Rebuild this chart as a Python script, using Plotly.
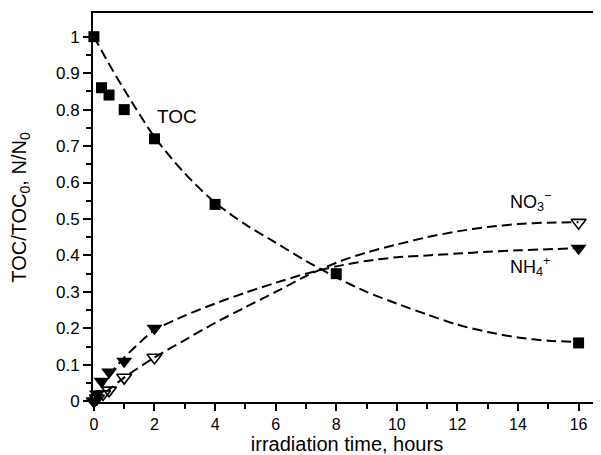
import plotly.graph_objects as go

# measured points
toc_t = [0, 0.25, 0.5, 1, 2, 4, 8, 16]
toc_v = [1.0, 0.86, 0.84, 0.80, 0.72, 0.54, 0.35, 0.16]

nh4_t = [0, 0.1, 0.25, 0.5, 1, 2, 16]
nh4_v = [0.0, 0.02, 0.055, 0.08, 0.11, 0.20, 0.42]

no3_t = [0, 0.1, 0.3, 0.5, 1, 2, 16]
no3_v = [0.0, 0.008, 0.02, 0.03, 0.065, 0.12, 0.49]

# fitted (dashed) curves
toc_fit_t = [0, 0.5, 1, 2, 3, 4, 5, 6, 7, 8, 9, 10, 11, 12, 13, 14, 15, 16]
toc_fit_v = [1.0, 0.925, 0.855, 0.725, 0.625, 0.545, 0.485, 0.435, 0.385, 0.34, 0.30, 0.268, 0.238, 0.21, 0.19, 0.175, 0.166, 0.163]

nh4_fit_t = [0, 0.5, 1, 1.5, 2, 3, 4, 5, 6, 7, 8, 9, 10, 11, 12, 13, 14, 15, 16]
nh4_fit_v = [0.0, 0.07, 0.12, 0.16, 0.195, 0.235, 0.268, 0.298, 0.325, 0.35, 0.37, 0.385, 0.395, 0.4, 0.405, 0.41, 0.414, 0.417, 0.42]

no3_fit_t = [0, 0.5, 1, 2, 3, 4, 5, 6, 7, 8, 9, 10, 11, 12, 13, 14, 15, 16]
no3_fit_v = [0.0, 0.032, 0.065, 0.12, 0.168, 0.215, 0.258, 0.30, 0.343, 0.38, 0.408, 0.43, 0.45, 0.466, 0.478, 0.486, 0.49, 0.491]

x_ticks = [0, 2, 4, 6, 8, 10, 12, 14, 16]
y_ticks = [0, 0.1, 0.2, 0.3, 0.4, 0.5, 0.6, 0.7, 0.8, 0.9, 1.0]
y_tick_text = ["0", "0.1", "0.2", "0.3", "0.4", "0.5", "0.6", "0.7", "0.8", "0.9", "1"]
y_minor = [0.05, 0.15, 0.25, 0.35, 0.45, 0.55, 0.65, 0.75, 0.85, 0.95]
x_minor = [1, 3, 5, 7, 9, 11, 13, 15]

FONT = "Liberation Sans, Arial, Helvetica, sans-serif"
dash = "10px,5px"

fig = go.Figure()
for t, v in [(toc_fit_t, toc_fit_v), (nh4_fit_t, nh4_fit_v), (no3_fit_t, no3_fit_v)]:
    fig.add_trace(go.Scatter(x=t, y=v, mode="lines",
                             line=dict(color="black", width=2, dash=dash, shape="spline", smoothing=0.8),
                             hoverinfo="skip", showlegend=False, cliponaxis=False))

fig.add_trace(go.Scatter(x=no3_t, y=no3_v, mode="markers",
                         marker=dict(symbol="triangle-down-open", size=13, color="black",
                                     line=dict(color="black", width=1.6)),
                         showlegend=False, cliponaxis=False))
fig.add_trace(go.Scatter(x=nh4_t, y=nh4_v, mode="markers",
                         marker=dict(symbol="triangle-down", size=14, color="black"),
                         showlegend=False, cliponaxis=False))
fig.add_trace(go.Scatter(x=toc_t, y=toc_v, mode="markers",
                         marker=dict(symbol="square", size=11, color="black"),
                         showlegend=False, cliponaxis=False))

fig.add_annotation(x=2.74, y=0.78, text="TOC", showarrow=False,
                   font=dict(family=FONT, size=19, color="black"))
fig.add_annotation(x=14.4, y=0.547, text="NO<sub>3</sub><sup>−</sup>", showarrow=False,
                   font=dict(family=FONT, size=18, color="black"))
fig.add_annotation(x=14.4, y=0.37, text="NH<sub>4</sub><sup>+</sup>", showarrow=False,
                   font=dict(family=FONT, size=18, color="black"))

# page body has an 8px default margin, so the figure is 8px smaller and margins shifted
fig.update_layout(
    width=593, height=447,
    margin=dict(l=85, r=0, t=5, b=53),
    paper_bgcolor="white", plot_bgcolor="white",
    font=dict(family=FONT, color="black"),
    xaxis=dict(range=[-0.03, 16.74], tickvals=x_ticks, ticks="outside", ticklen=7, tickwidth=1.5,
               tickcolor="black", showgrid=False, zeroline=False, showline=True, linecolor="black",
               linewidth=2, mirror=True, tickfont=dict(size=16), automargin=False,
               minor=dict(tickvals=x_minor, ticks="outside", ticklen=5, tickwidth=1.5, tickcolor="black",
                          showgrid=False),
               title=dict(text="irradiation time, hours", font=dict(size=20), standoff=9)),
    yaxis=dict(range=[-0.002, 1.065], tickvals=y_ticks, ticktext=y_tick_text, ticks="outside",
               ticklen=8, tickwidth=1.5, tickcolor="black", showgrid=False, zeroline=False,
               showline=True, linecolor="black", linewidth=2, mirror=False, tickfont=dict(size=17),
               automargin=False,
               minor=dict(tickvals=y_minor, ticks="outside", ticklen=5, tickwidth=1.5, tickcolor="black",
                          showgrid=False),
               title=dict(text="TOC/TOC<sub>0</sub>, N/N<sub>0</sub>", font=dict(size=20), standoff=24)),
)

fig.write_html("out.html")
